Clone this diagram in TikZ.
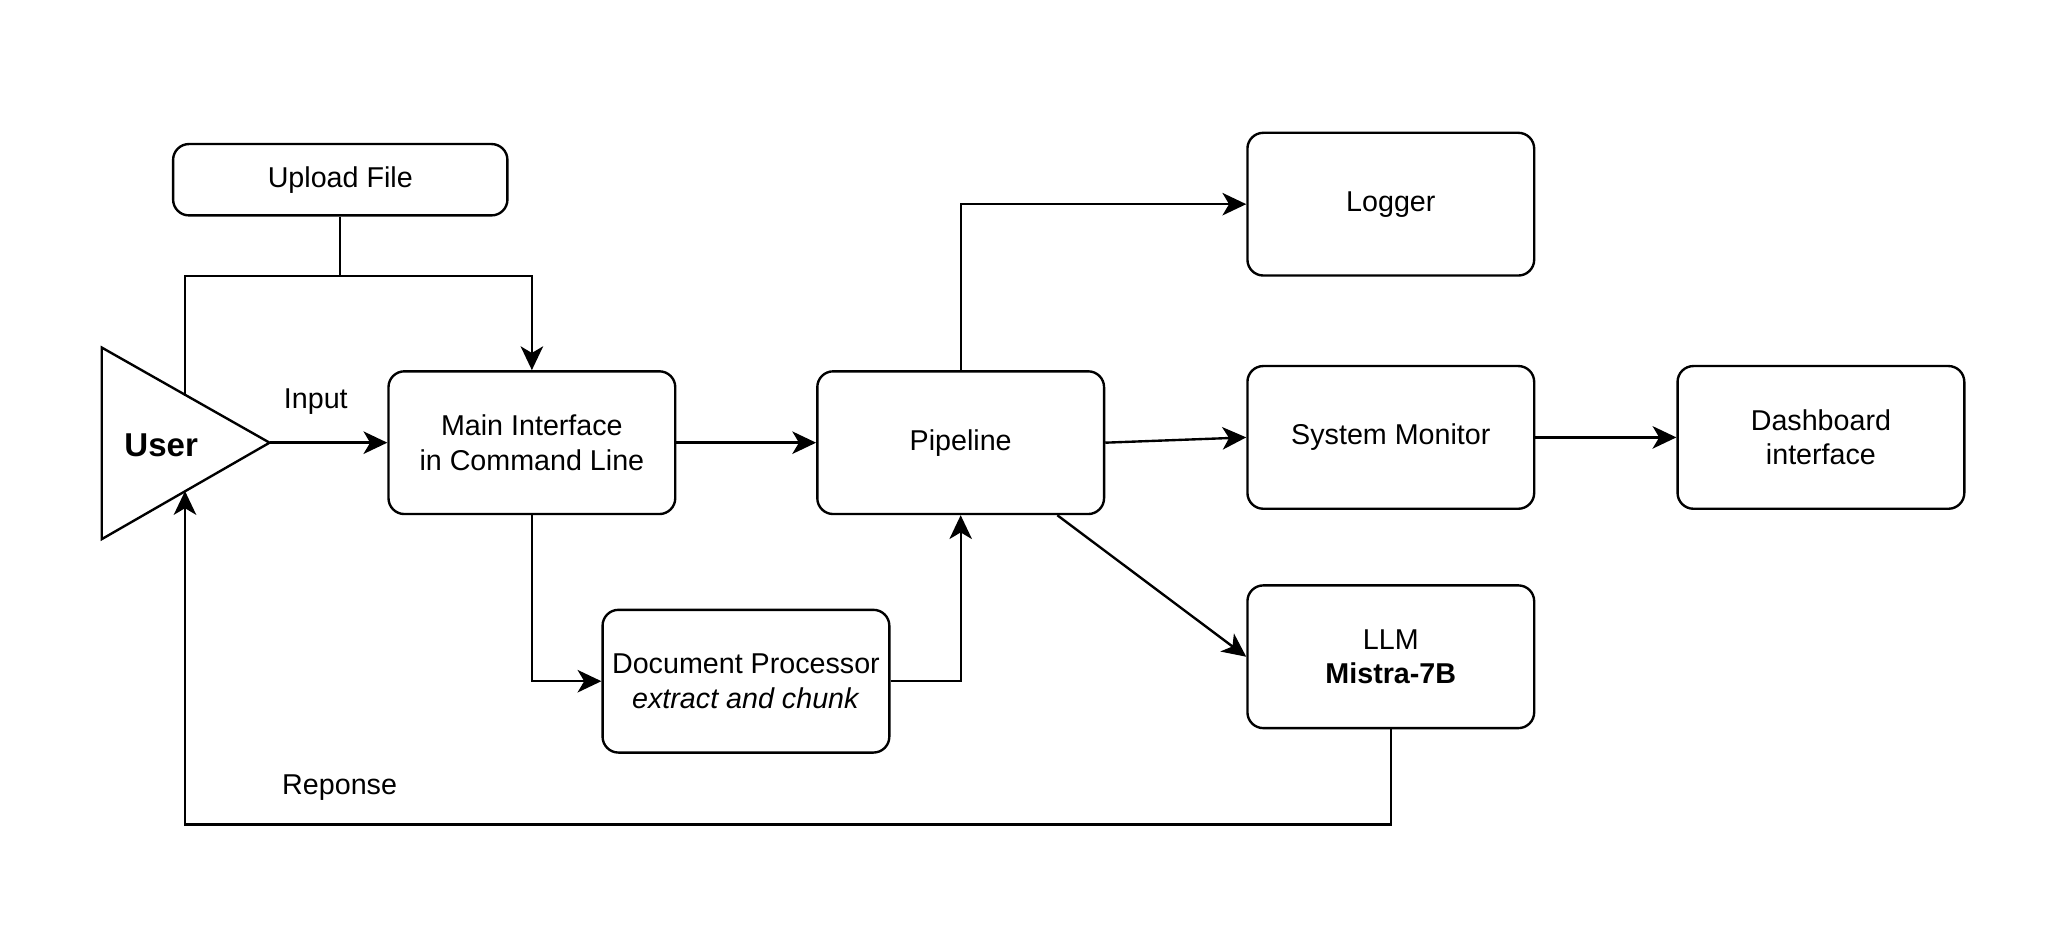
\documentclass[tikz,border=0pt]{standalone}
\usepackage{fontspec}
\setmainfont{Liberation Sans}
\usetikzlibrary{arrows.meta}
\begin{document}
\begin{tikzpicture}[x=1pt,y=-1pt,
  box/.style={draw, line width=1.8pt, rounded corners=12pt, minimum width=217pt, minimum height=108pt, align=center, font=\fontsize{21.7}{26}\selectfont, inner sep=0pt, fill=white},
  conn/.style={line width=1.8pt},
  arr/.style={conn, -{Stealth[length=18pt,width=17pt,inset=5pt]}},
  lbl/.style={font=\fontsize{21.7}{26}\selectfont, inner sep=0pt}]
\fill[white] (0,0) rectangle (1568,707);
\useasboundingbox (0,0) rectangle (1568,707);

% nodes
\node[box, minimum width=253pt, minimum height=54pt] (upload) at (257.5,136) {Upload File};
\node[box] (main) at (402.5,335) {Main Interface\\in Command Line};
\node[box] (pipe) at (727,335) {Pipeline};
\node[box] (logger) at (1052.5,154.5) {Logger};
\node[box] (sysmon) at (1052.5,331) {System Monitor};
\node[box] (dash) at (1378,331) {Dashboard\\interface};
\node[box] (llm) at (1052.5,497) {LLM\\\textbf{Mistra-7B}};
\node[box] (doc) at (564.5,515.5) {Document Processor\\\textit{extract and chunk}};

% user triangle
\coordinate (tA) at (77,263);
\coordinate (tB) at (77,408);
\coordinate (tC) at (204,335);
\draw[line width=1.8pt, line join=miter] (tA) -- (tC) -- (tB) -- cycle;
\node[font=\bfseries\fontsize{25}{30}\selectfont, inner sep=0pt] (user) at (122,337) {User};
\coordinate (uTop) at (140,299.6);
\coordinate (uBot) at (140,371.6);

% labels
\node[lbl] (inputlbl) at (239,304) {Input};
\node[lbl] (resplbl) at (257,596) {Reponse};

% connectors
\coordinate (jn) at (upload.south |- 0,209);
\draw[conn] (upload.south) -- (jn);
\draw[arr] (uTop) |- (jn) -| (main.north);
\draw[arr] (tC) -- (main.west);
\draw[arr] (main.east) -- (pipe.west);
\draw[arr] (pipe.north) |- (logger.west);
\draw[arr] (pipe.east) -- (sysmon.west);
\draw[arr] (sysmon.east) -- (dash.west);
\draw[arr] (pipe) -- (llm.west);
\draw[arr] (main.south) |- (doc.west);
\draw[arr] (doc.east) -| (pipe.south);
\coordinate (rb) at (uBot |- 0,624);
\draw[arr] (llm.south) |- (rb) -- (uBot);
\end{tikzpicture}
\end{document}
